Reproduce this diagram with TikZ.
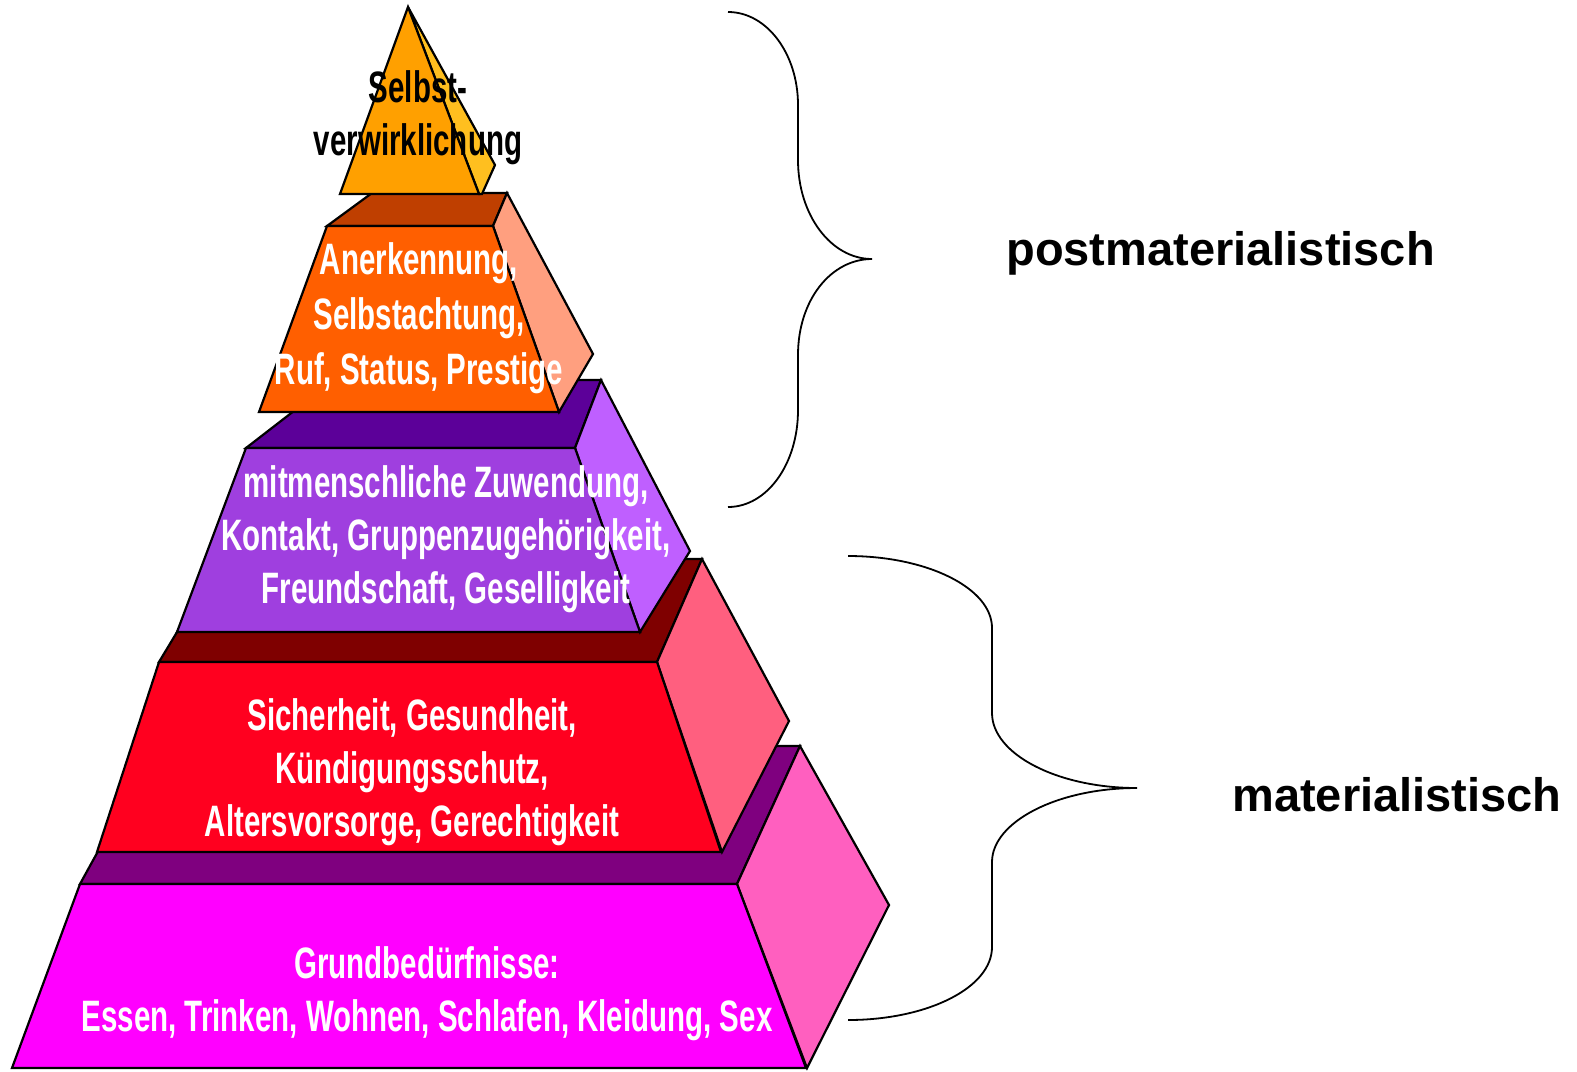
\documentclass[tikz,border=0pt]{standalone}
\usepackage{fontspec}
\newfontfamily\narrowf[FakeStretch=0.67]{Liberation Sans}
\newfontfamily\labf{Liberation Sans}
\definecolor{triF}{HTML}{FFA000}
\definecolor{triS}{HTML}{FFBF1F}
\definecolor{orT}{HTML}{BF3F00}
\definecolor{orF}{HTML}{FF5F00}
\definecolor{orS}{HTML}{FF9F7F}
\definecolor{puT}{HTML}{5C0099}
\definecolor{puF}{HTML}{9F3FDF}
\definecolor{puS}{HTML}{BF5FFF}
\definecolor{reT}{HTML}{7F0000}
\definecolor{reF}{HTML}{FF001F}
\definecolor{reS}{HTML}{FF5F7F}
\definecolor{maT}{HTML}{7F007F}
\definecolor{maF}{HTML}{FF00FF}
\definecolor{maS}{HTML}{FF5FBF}
\begin{document}
\begin{tikzpicture}[x=0.5pt,y=-0.5pt,
  face/.style={draw=black,line width=1.1pt,line join=miter},
  ptext/.style={text=white,align=center,inner sep=0pt,font=\narrowf\bfseries\fontsize{22}{26.5}\selectfont},
  brace/.style={draw=black,line width=0.9pt},
  lab/.style={anchor=west,inner sep=0pt,font=\labf\bfseries\fontsize{23.5}{28}\selectfont}]
\useasboundingbox (0,0) rectangle (1577,1071);
% magenta level
\path[face,fill=maT] (156,746) -- (800,746) -- (737,884) -- (80,884) -- cycle;
\path[face,fill=maS] (800,746) -- (889,905) -- (807,1068) -- (737,884) -- cycle;
\path[face,fill=maF] (80,884) -- (737,884) -- (806,1068) -- (12,1068) -- cycle;
% red level
\path[face,fill=reT] (221,559) -- (702,559) -- (657,662) -- (159,662) -- cycle;
\path[face,fill=reS] (702,559) -- (789,721) -- (722,852) -- (657,662) -- cycle;
\path[face,fill=reF] (159,662) -- (657,662) -- (721,852) -- (97,852) -- cycle;
% purple level
\path[face,fill=puT] (334,380) -- (601,380) -- (575,448) -- (246,448) -- cycle;
\path[face,fill=puS] (601,380) -- (690,551) -- (640,632) -- (575,448) -- cycle;
\path[face,fill=puF] (246,448) -- (575,448) -- (640,632) -- (177,632) -- cycle;
% orange level
\path[face,fill=orT] (372,193) -- (507,193) -- (493,226) -- (327,226) -- cycle;
\path[face,fill=orS] (507,193) -- (593,354) -- (559,412) -- (493,226) -- cycle;
\path[face,fill=orF] (327,226) -- (493,226) -- (559,412) -- (259,412) -- cycle;
% top triangle
\path[face,fill=triS] (408,7) -- (495,165) -- (482,194) -- (479,194) -- cycle;
\path[face,fill=triF] (408,7) -- (479,194) -- (340,194) -- cycle;
% texts
\node[ptext,text=black] (t1) at (418,118) {Selbst-\\verwirklichung};
\node[ptext,font=\narrowf\bfseries\fontsize{22}{27.5}\selectfont] (t2) at (419,318) {Anerkennung,\\Selbstachtung,\\Ruf, Status, Prestige};
\node[ptext] (t3) at (446,539) {mitmenschliche Zuwendung,\\Kontakt, Gruppenzugehörigkeit,\\Freundschaft, Geselligkeit};
\node[ptext] (t4) at (412,772) {Sicherheit, Gesundheit,\\Kündigungsschutz,\\Altersvorsorge, Gerechtigkeit};
\node[ptext] (t5) at (427,994) {Grundbedürfnisse:\\Essen, Trinken, Wohnen, Schlafen, Kleidung, Sex};
% braces
\path[brace] (728,12) .. controls (767,12) and (798,54) .. (798,105) -- (798,160)
  .. controls (798,215) and (831,259) .. (872,259)
  .. controls (831,259) and (798,300) .. (798,355) -- (798,410)
  .. controls (798,464) and (767,507) .. (728,507);
\path[brace] (848,556) .. controls (927,556) and (992,588) .. (992,628) -- (992,713)
  .. controls (992,754) and (1057,788) .. (1137,788)
  .. controls (1057,788) and (992,822) .. (992,862) -- (992,947)
  .. controls (992,988) and (927,1020) .. (848,1020);
\node[lab] (post) at (1006,253) {postmaterialistisch};
\node[lab] (mat) at (1232,795) {materialistisch};
\end{tikzpicture}
\end{document}
